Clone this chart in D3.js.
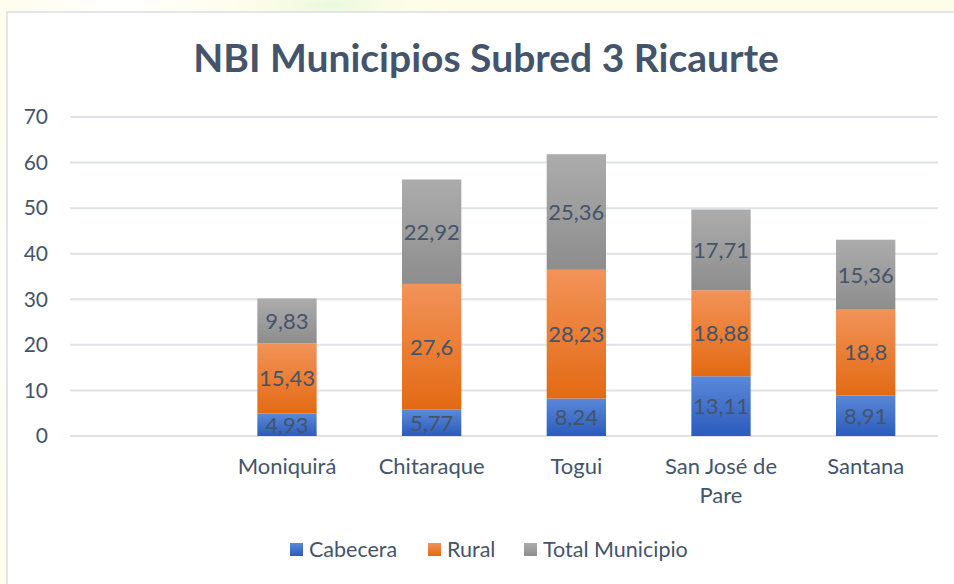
<!DOCTYPE html>
<html>
<head>
<meta charset="utf-8">
<script src="https://cdn.jsdelivr.net/npm/d3@7"></script>
<style>
  html, body { margin: 0; padding: 0; background: #fffef0; }
  svg { display: block; }
  text { font-family: Lato, "Open Sans", sans-serif; fill: #44546a; }
</style>
</head>
<body>
<div id="chart"></div>
<script>
(function () {
	'use strict';

	var categories = ["", "Moniquirá", "Chitaraque", "Togui", "San José de Pare", "Santana"];
	var cabecera = [null, 4.93, 5.77, 8.24, 13.11, 8.91];
	var rural = [null, 15.43, 27.6, 28.23, 18.88, 18.8];
	var totalMunicipio = [null, 9.83, 22.92, 25.36, 17.71, 15.36];
	var seriesNames = ["Cabecera", "Rural", "Total Municipio"];
	var yTicks = [0, 10, 20, 30, 40, 50, 60, 70];

	var width = 954, height = 584;
	var margin = { top: 117, right: 16, bottom: 148, left: 70 };

	var gradients = [
		{ id: "gBlue", top: "#5b88d8", bottom: "#2b5cbd" },
		{ id: "gOrange", top: "#f29359", bottom: "#e36a13" },
		{ id: "gGray", top: "#acacac", bottom: "#8d8d8d" }
	];

	var svg = d3.select("#chart").append("svg")
		.attr("width", width)
		.attr("height", height);

	var defs = svg.append("defs");
	gradients.forEach(function (g) {
		var lg = defs.append("linearGradient")
			.attr("id", g.id)
			.attr("x1", 0).attr("y1", 0).attr("x2", 0).attr("y2", 1);
		lg.append("stop").attr("offset", "0%").attr("stop-color", g.top);
		lg.append("stop").attr("offset", "100%").attr("stop-color", g.bottom);
	});

	// faint slide background blobs
	var blob = defs.append("radialGradient").attr("id", "blobGreen");
	blob.append("stop").attr("offset", "0%").attr("stop-color", "#e9f8d8");
	blob.append("stop").attr("offset", "100%").attr("stop-color", "#fffef0").attr("stop-opacity", 0);
	var blobW = defs.append("radialGradient").attr("id", "blobWhite");
	blobW.append("stop").attr("offset", "0%").attr("stop-color", "#ffffff");
	blobW.append("stop").attr("offset", "100%").attr("stop-color", "#ffffff").attr("stop-opacity", 0);

	svg.append("rect").attr("width", width).attr("height", height).attr("fill", "#fffdea");
	svg.append("ellipse").attr("cx", 330).attr("cy", 5).attr("rx", 120).attr("ry", 30).attr("fill", "url(#blobGreen)");
	svg.append("ellipse").attr("cx", 120).attr("cy", 5).attr("rx", 140).attr("ry", 25).attr("fill", "url(#blobWhite)");
	svg.append("ellipse").attr("cx", 3).attr("cy", 300).attr("rx", 8).attr("ry", 300).attr("fill", "url(#blobWhite)");

	// chart area
	svg.append("rect")
		.attr("x", 7).attr("y", 12)
		.attr("width", width + 10).attr("height", height + 10)
		.attr("fill", "#ffffff")
		.attr("stroke", "#d9dee6")
		.attr("stroke-width", 1.5);

	var x = d3.scaleBand()
		.domain(categories)
		.range([margin.left, width - margin.right])
		.paddingInner(0.59)
		.paddingOuter(0.295);

	var y = d3.scaleLinear()
		.domain([0, 70])
		.range([height - margin.bottom, margin.top]);

	// title
	svg.append("text")
		.attr("x", 486)
		.attr("y", 72)
		.attr("text-anchor", "middle")
		.attr("font-size", "39px")
		.attr("font-weight", "700")
		.text("NBI Municipios Subred 3 Ricaurte");

	// gridlines
	svg.append("g")
		.attr("class", "grid")
		.selectAll("line")
		.data(yTicks)
		.enter()
		.append("line")
		.attr("x1", margin.left)
		.attr("x2", width - margin.right)
		.attr("y1", function (d) { return y(d); })
		.attr("y2", function (d) { return y(d); })
		.attr("stroke", "#dfe2e7")
		.attr("stroke-width", 2);

	// left axis (labels only)
	var leftAxis = svg.append("g")
		.attr("transform", "translate(" + (margin.left - 22) + ",0)")
		.call(d3.axisLeft(y).tickValues(yTicks).tickSize(0).tickPadding(0));
	leftAxis.select(".domain").remove();
	leftAxis.selectAll("text")
		.attr("font-size", "21px")
		.attr("font-family", "Lato, sans-serif")
		.attr("fill", "#44546a");

	// stacked data
	var rows = categories.map(function (c, i) {
		return { cat: c, Cabecera: cabecera[i], Rural: rural[i], "Total Municipio": totalMunicipio[i] };
	}).filter(function (d) { return d.Cabecera !== null; });

	var stack = d3.stack().keys(seriesNames);
	var layers = stack(rows);
	var fills = ["url(#gBlue)", "url(#gOrange)", "url(#gGray)"];

	var layerG = svg.selectAll("g.layer")
		.data(layers)
		.enter()
		.append("g")
		.attr("class", "layer")
		.attr("fill", function (d, i) { return fills[i]; });

	layerG.selectAll("rect")
		.data(function (d) { return d; })
		.enter()
		.append("rect")
		.attr("x", function (d) { return x(d.data.cat); })
		.attr("width", x.bandwidth())
		.attr("y", function (d) { return y(d[1]); })
		.attr("height", function (d) { return y(d[0]) - y(d[1]); });

	var fmt = function (v) { return String(v).replace(".", ","); };

	layerG.selectAll("text")
		.data(function (d) { return d.map(function (p) { return { p: p, key: d.key }; }); })
		.enter()
		.append("text")
		.attr("x", function (d) { return x(d.p.data.cat) + x.bandwidth() / 2; })
		.attr("y", function (d) { return (y(d.p[0]) + y(d.p[1])) / 2; })
		.attr("dy", "0.36em")
		.attr("text-anchor", "middle")
		.attr("font-size", "22px")
		.text(function (d) { return fmt(d.p.data[d.key]); });

	// bottom axis labels (wrapped like the original)
	var catLines = {
		"Moniquirá": ["Moniquirá"],
		"Chitaraque": ["Chitaraque"],
		"Togui": ["Togui"],
		"San José de Pare": ["San José de", "Pare"],
		"Santana": ["Santana"]
	};
	var catG = svg.append("g").attr("class", "xlabels");
	rows.forEach(function (d) {
		catLines[d.cat].forEach(function (line, k) {
			catG.append("text")
				.attr("x", x(d.cat) + x.bandwidth() / 2)
				.attr("y", 474 + k * 29)
				.attr("text-anchor", "middle")
				.attr("font-size", "22px")
				.text(line);
		});
	});

	// legend
	var legendX = [290, 428, 524];
	var legend = svg.append("g").attr("class", "legend");
	seriesNames.forEach(function (name, i) {
		legend.append("rect")
			.attr("x", legendX[i])
			.attr("y", 543)
			.attr("width", 13)
			.attr("height", 13)
			.attr("fill", fills[i]);
		legend.append("text")
			.attr("x", legendX[i] + 19)
			.attr("y", 557)
			.attr("font-size", "21.5px")
			.text(name);
	});
})();
</script>
</body>
</html>
